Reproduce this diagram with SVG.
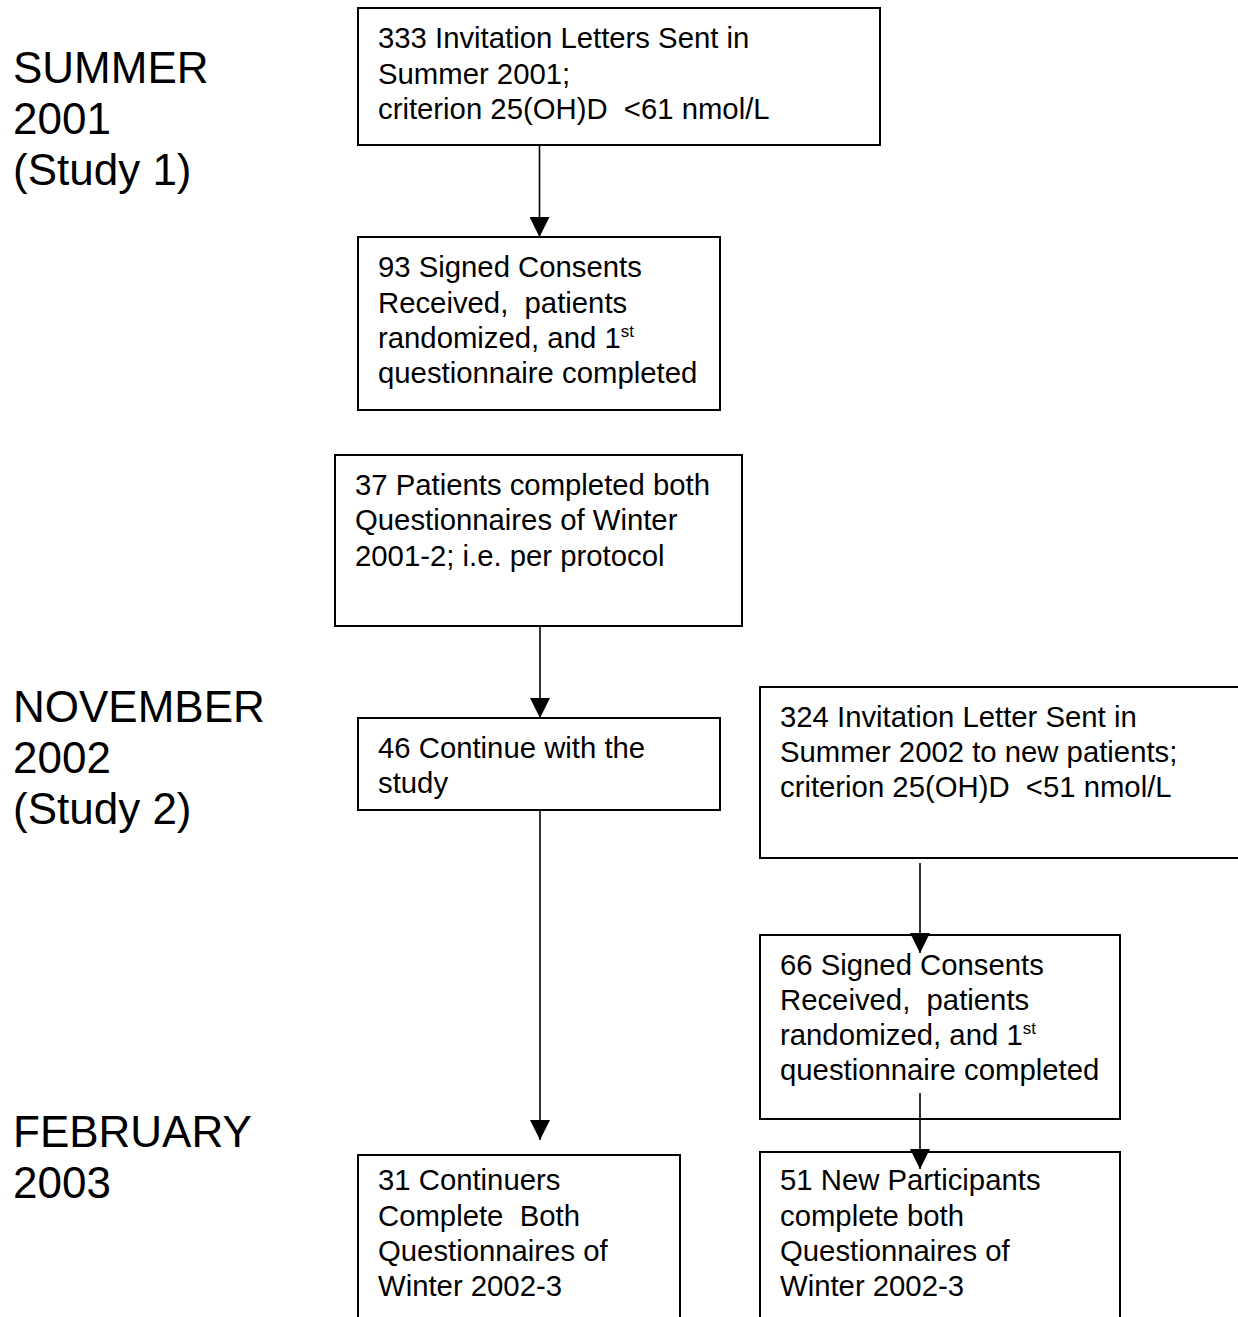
<svg xmlns="http://www.w3.org/2000/svg" width="1238" height="1317" viewBox="0 0 1238 1317">
<style>
  .box { fill: #fff; stroke: #000; stroke-width: 2; }
  .t { font-family: "Liberation Sans", Arial, Helvetica, sans-serif; font-size: 29.3px; fill: #000; }
  .lab { font-family: "Liberation Sans", Arial, Helvetica, sans-serif; font-size: 44px; fill: #000; }
  .sup { font-size: 17px; }
  .conn { stroke: #000; stroke-width: 1.6; fill: none; }
</style>
<defs>
  <marker id="ah" markerUnits="userSpaceOnUse" markerWidth="20" markerHeight="20" viewBox="0 0 18 18" refX="18" refY="9" orient="auto">
    <path d="M0,0 L18,9 L0,18 Z" fill="#000"/>
  </marker>
</defs>
<rect width="1238" height="1317" fill="#fff"/>

<g id="labels">
  <text class="lab" x="13" y="83">SUMMER</text>
  <text class="lab" x="13" y="134">2001</text>
  <text class="lab" x="13" y="185">(Study 1)</text>
  <text class="lab" x="13" y="722">NOVEMBER</text>
  <text class="lab" x="13" y="773">2002</text>
  <text class="lab" x="13" y="824">(Study 2)</text>
  <text class="lab" x="13" y="1147">FEBRUARY</text>
  <text class="lab" x="13" y="1198">2003</text>
</g>

<g id="n1">
  <rect class="box" x="358" y="8" width="522" height="137"/>
  <text class="t" x="378" y="48">333 Invitation Letters Sent in</text>
  <text class="t" x="378" y="84">Summer 2001;</text>
  <text class="t" x="378" y="119" xml:space="preserve">criterion 25(OH)D  &lt;61 nmol/L</text>
</g>

<g id="n2">
  <rect class="box" x="358" y="237" width="362" height="173"/>
  <text class="t" x="378" y="277">93 Signed Consents</text>
  <text class="t" x="378" y="313" xml:space="preserve">Received,  patients</text>
  <text class="t" x="378" y="348">randomized, and 1<tspan class="sup" dy="-11">st</tspan></text>
  <text class="t" x="378" y="383">questionnaire completed</text>
</g>

<g id="n3">
  <rect class="box" x="335" y="455" width="407" height="171"/>
  <text class="t" x="355" y="495">37 Patients completed both</text>
  <text class="t" x="355" y="530">Questionnaires of Winter</text>
  <text class="t" x="355" y="566">2001-2; i.e. per protocol</text>
</g>

<g id="n4">
  <rect class="box" x="358" y="718" width="362" height="92"/>
  <text class="t" x="378" y="758">46 Continue with the</text>
  <text class="t" x="378" y="793">study</text>
</g>

<g id="n5">
  <path class="box" d="M358,1330 L358,1155 L680,1155 L680,1330"/>
  <text class="t" x="378" y="1190">31 Continuers</text>
  <text class="t" x="378" y="1226" xml:space="preserve">Complete  Both</text>
  <text class="t" x="378" y="1261">Questionnaires of</text>
  <text class="t" x="378" y="1296">Winter 2002-3</text>
</g>

<g id="n6">
  <rect class="box" x="760" y="687" width="490" height="171"/>
  <text class="t" x="780" y="727">324 Invitation Letter Sent in</text>
  <text class="t" x="780" y="762">Summer 2002 to new patients;</text>
  <text class="t" x="780" y="797" xml:space="preserve">criterion 25(OH)D  &lt;51 nmol/L</text>
</g>

<g id="n7">
  <rect class="box" x="760" y="935" width="360" height="184"/>
  <text class="t" x="780" y="975">66 Signed Consents</text>
  <text class="t" x="780" y="1010" xml:space="preserve">Received,  patients</text>
  <text class="t" x="780" y="1045">randomized, and 1<tspan class="sup" dy="-11">st</tspan></text>
  <text class="t" x="780" y="1080">questionnaire completed</text>
</g>

<g id="n8">
  <path class="box" d="M760,1330 L760,1152 L1120,1152 L1120,1330"/>
  <text class="t" x="780" y="1190">51 New Participants</text>
  <text class="t" x="780" y="1226">complete both</text>
  <text class="t" x="780" y="1261">Questionnaires of</text>
  <text class="t" x="780" y="1296">Winter 2002-3</text>
</g>

<g id="connectors">
  <line class="conn" x1="539.5" y1="145" x2="539.5" y2="237" marker-end="url(#ah)"/>
  <line class="conn" x1="540" y1="626" x2="540" y2="718" marker-end="url(#ah)"/>
  <line class="conn" x1="540" y1="810" x2="540" y2="1140" marker-end="url(#ah)"/>
  <line class="conn" x1="920" y1="863" x2="920" y2="953" marker-end="url(#ah)"/>
  <line class="conn" x1="920" y1="1093" x2="920" y2="1169" marker-end="url(#ah)"/>
</g>
</svg>
